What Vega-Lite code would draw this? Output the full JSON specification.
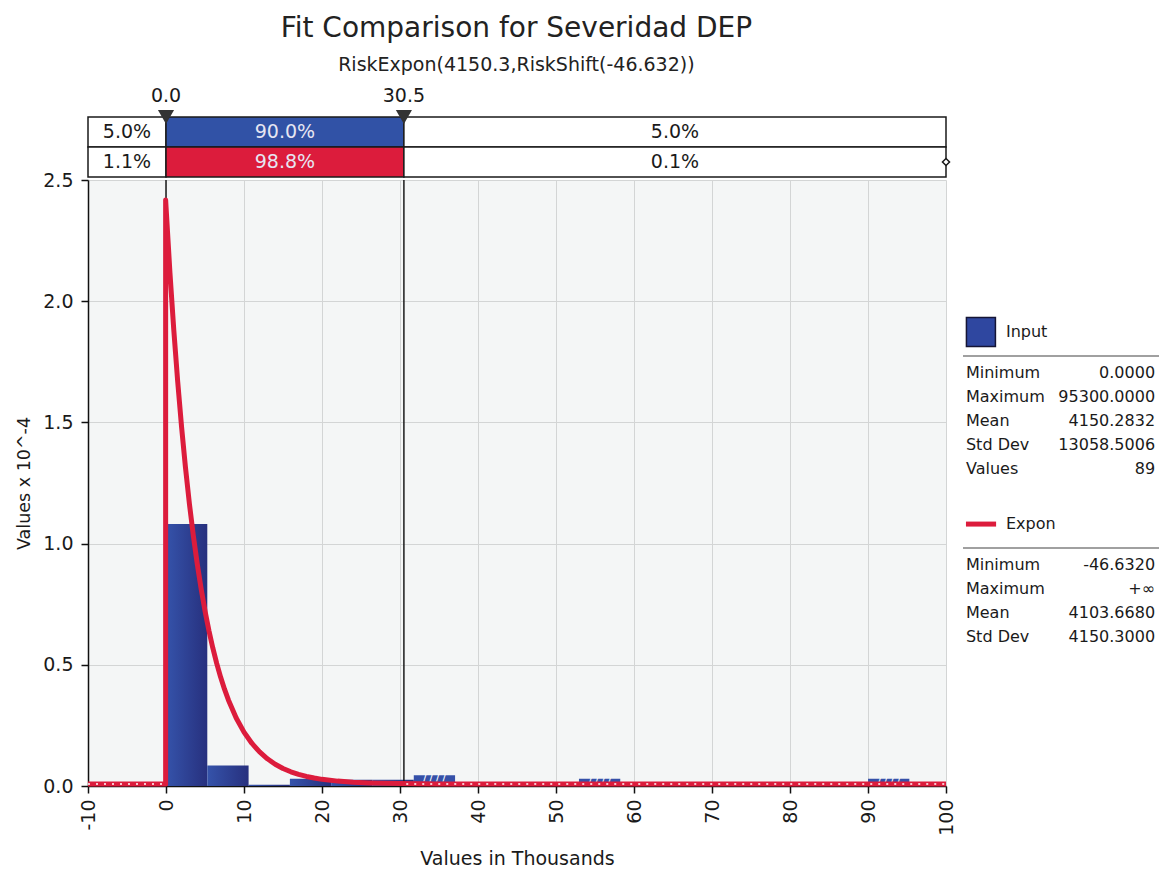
{
  "$schema": "https://vega.github.io/schema/vega-lite/v6.json",
  "padding": {"left": 15, "top": 15, "right": 0, "bottom": 0},
  "title": {
    "text": "Fit Comparison for Severidad DEP",
    "subtitle": "RiskExpon(4150.3,RiskShift(-46.632))",
    "fontSize": 28,
    "fontWeight": "normal",
    "color": "#222222",
    "subtitleFontSize": 19,
    "subtitleColor": "#222222",
    "subtitlePadding": 13,
    "anchor": "middle",
    "dx": -72,
    "offset": 12
  },
  "datasets": {
    "bins": [
      {"lo": 0.0, "hi": 5.294, "h": 1.081, "zone": "inside"},
      {"lo": 5.294, "hi": 10.589, "h": 0.085, "zone": "inside"},
      {"lo": 10.589, "hi": 15.883, "h": 0.005, "zone": "inside"},
      {"lo": 15.883, "hi": 21.178, "h": 0.030, "zone": "inside"},
      {"lo": 21.178, "hi": 26.472, "h": 0.026, "zone": "inside"},
      {"lo": 26.472, "hi": 31.767, "h": 0.026, "zone": "inside"},
      {"lo": 31.767, "hi": 37.061, "h": 0.044, "zone": "outside"},
      {"lo": 52.944, "hi": 58.239, "h": 0.030, "zone": "outside"},
      {"lo": 90.006, "hi": 95.300, "h": 0.030, "zone": "outside"}
    ],
    "expon": [
      {"o": 0, "x": -10, "y": 0},
      {"o": 1, "x": -0.0466, "y": 0},
      {"o": 2, "x": -0.0466, "y": 2.4095},
      {"o": 3, "x": 0, "y": 2.3825},
      {"o": 4, "x": 0.5, "y": 2.1121},
      {"o": 5, "x": 1, "y": 1.8724},
      {"o": 6, "x": 1.5, "y": 1.6599},
      {"o": 7, "x": 2, "y": 1.4715},
      {"o": 8, "x": 2.5, "y": 1.3045},
      {"o": 9, "x": 3, "y": 1.1564},
      {"o": 10, "x": 3.5, "y": 1.0252},
      {"o": 11, "x": 4, "y": 0.9088},
      {"o": 12, "x": 4.5, "y": 0.8057},
      {"o": 13, "x": 5, "y": 0.7142},
      {"o": 14, "x": 5.5, "y": 0.6332},
      {"o": 15, "x": 6, "y": 0.5613},
      {"o": 16, "x": 6.5, "y": 0.4976},
      {"o": 17, "x": 7, "y": 0.4411},
      {"o": 18, "x": 7.5, "y": 0.3911},
      {"o": 19, "x": 8, "y": 0.3467},
      {"o": 20, "x": 9, "y": 0.2724},
      {"o": 21, "x": 10, "y": 0.2141},
      {"o": 22, "x": 11, "y": 0.1683},
      {"o": 23, "x": 12, "y": 0.1322},
      {"o": 24, "x": 13, "y": 0.1039},
      {"o": 25, "x": 14, "y": 0.0817},
      {"o": 26, "x": 15, "y": 0.0642},
      {"o": 27, "x": 16, "y": 0.0504},
      {"o": 28, "x": 17, "y": 0.0396},
      {"o": 29, "x": 18, "y": 0.0312},
      {"o": 30, "x": 19, "y": 0.0245},
      {"o": 31, "x": 20, "y": 0.0192},
      {"o": 32, "x": 22, "y": 0.0119},
      {"o": 33, "x": 24, "y": 0.0073},
      {"o": 34, "x": 26, "y": 0.0045},
      {"o": 35, "x": 28, "y": 0.0028},
      {"o": 36, "x": 30, "y": 0.0017},
      {"o": 37, "x": 35, "y": 0.0005},
      {"o": 38, "x": 40, "y": 0.0002},
      {"o": 39, "x": 50, "y": 0.0},
      {"o": 40, "x": 100, "y": 0.0}
    ],
    "tails": [
      {"part": "left", "x": -10, "y": 0},
      {"part": "left", "x": -0.3, "y": 0},
      {"part": "right", "x": 30.8, "y": 0},
      {"part": "right", "x": 100, "y": 0}
    ],
    "marks": [
      {"pos": 0, "label": "0.0"},
      {"pos": 30.5, "label": "30.5"}
    ],
    "segments": [
      {"row": "Input", "seg": "out", "lo": -10, "hi": 0, "pct": "5.0%"},
      {"row": "Input", "seg": "Input", "lo": 0, "hi": 30.5, "pct": "90.0%"},
      {"row": "Input", "seg": "out", "lo": 30.5, "hi": 100, "pct": "5.0%"},
      {"row": "Expon", "seg": "out", "lo": -10, "hi": 0, "pct": "1.1%"},
      {"row": "Expon", "seg": "Expon", "lo": 0, "hi": 30.5, "pct": "98.8%"},
      {"row": "Expon", "seg": "out", "lo": 30.5, "hi": 100, "pct": "0.1%"}
    ],
    "headers": [
      {"name": "Input", "line": 10},
      {"name": "Expon", "line": 18}
    ],
    "stats": [
      {"label": "Minimum", "val": "0.0000", "line": 12},
      {"label": "Maximum", "val": "95300.0000", "line": 13},
      {"label": "Mean", "val": "4150.2832", "line": 14},
      {"label": "Std Dev", "val": "13058.5006", "line": 15},
      {"label": "Values", "val": "89", "line": 16},
      {"label": "Minimum", "val": "-46.6320", "line": 20},
      {"label": "Maximum", "val": "+∞", "line": 21},
      {"label": "Mean", "val": "4103.6680", "line": 22},
      {"label": "Std Dev", "val": "4150.3000", "line": 23}
    ]
  },
  "hconcat": [
    {
      "vconcat": [
        {
          "width": 858,
          "height": 90,
          "layer": [
            {
              "data": {"name": "segments"},
              "mark": {"type": "rect", "stroke": "#1a1a1a", "strokeWidth": 1.5},
              "encoding": {
                "x": {"field": "lo", "type": "quantitative", "scale": {"domain": [-10, 100], "nice": false, "zero": false}, "axis": null},
                "x2": {"field": "hi"},
                "y": {"field": "row", "type": "nominal", "scale": {"domain": ["marker", "Input", "Expon"], "paddingInner": 0, "paddingOuter": 0}, "axis": null},
                "fill": {"field": "seg", "type": "nominal", "scale": {"domain": ["out", "Input", "Expon"], "range": ["#ffffff", "#3152A6", "#DC1C3C"]}, "legend": null}
              }
            },
            {
              "data": {"name": "segments"},
              "transform": [{"calculate": "(datum.lo + datum.hi) / 2", "as": "mid"}],
              "mark": {"type": "text", "fontSize": 19, "baseline": "middle"},
              "encoding": {
                "x": {"field": "mid", "type": "quantitative"},
                "y": {"field": "row", "type": "nominal"},
                "text": {"field": "pct"},
                "color": {"condition": {"test": "datum.seg === 'out'", "value": "#1a1a1a"}, "value": "#E6E6F2"}
              }
            },
            {
              "data": {"name": "marks"},
              "mark": {"type": "point", "shape": "triangle-down", "filled": true, "color": "#333333", "size": 260, "opacity": 1},
              "encoding": {
                "x": {"field": "pos", "type": "quantitative"},
                "y": {"datum": "Input", "type": "nominal", "bandPosition": 0}
              }
            },
            {
              "data": {"name": "marks"},
              "mark": {"type": "text", "fontSize": 19, "baseline": "middle", "dy": -6, "color": "#1a1a1a"},
              "encoding": {
                "x": {"field": "pos", "type": "quantitative"},
                "y": {"datum": "marker", "type": "nominal"},
                "text": {"field": "label"}
              }
            },
            {
              "data": {"values": [{"pos": 100}]},
              "mark": {"type": "point", "shape": "diamond", "filled": true, "fill": "#ffffff", "stroke": "#1a1a1a", "strokeWidth": 1.5, "size": 50, "opacity": 1},
              "encoding": {
                "x": {"field": "pos", "type": "quantitative"},
                "y": {"datum": "Expon", "type": "nominal"}
              }
            }
          ]
        },
        {
          "width": 858,
          "height": 606,
          "view": {"fill": "#F4F6F6", "stroke": null},
          "layer": [
            {
              "data": {"name": "bins"},
              "transform": [{"filter": "datum.zone === 'inside'"}],
              "mark": {
                "type": "rect",
                "color": {"gradient": "linear", "x1": 0, "x2": 1, "y1": 0, "y2": 0,
                  "stops": [{"offset": 0, "color": "#3553AA"}, {"offset": 1, "color": "#27307E"}]}
              },
              "encoding": {
                "x": {"field": "lo", "type": "quantitative", "title": "Values in Thousands",
                  "scale": {"domain": [-10, 100], "nice": false, "zero": false},
                  "axis": {"values": [-10, 0, 10, 20, 30, 40, 50, 60, 70, 80, 90, 100], "labelExpr": "datum.value < 0 ? '-' + abs(datum.value) : '' + datum.value", "labelAngle": -90, "labelFontSize": 19, "titleFontSize": 19, "tickSize": 7, "labelPadding": 6, "titlePadding": 14, "grid": true, "domainWidth": 1.5, "tickWidth": 1.5}},
                "x2": {"field": "hi"},
                "y": {"field": "h", "type": "quantitative", "title": "Values x 10^-4",
                  "scale": {"domain": [0, 2.5], "nice": false},
                  "axis": {"values": [0, 0.5, 1, 1.5, 2, 2.5], "format": ".1f", "labelFontSize": 19, "titleFontSize": 17.5, "tickSize": 7, "labelPadding": 8, "titlePadding": 9, "grid": true, "domainWidth": 1.5, "tickWidth": 1.5}},
                "y2": {"datum": 0}
              }
            },
            {
              "data": {"name": "bins"},
              "transform": [{"filter": "datum.zone === 'outside'"}],
              "mark": {"type": "rect", "color": "#3550A8"},
              "encoding": {
                "x": {"field": "lo", "type": "quantitative", "title": "Values in Thousands"},
                "x2": {"field": "hi"},
                "y": {"field": "h", "type": "quantitative", "title": "Values x 10^-4"},
                "y2": {"datum": 0}
              }
            },
            {
              "data": {"name": "bins"},
              "transform": [
                {"filter": "datum.zone === 'outside'"},
                {"calculate": "(datum.lo + datum.hi) / 2", "as": "mid"}
              ],
              "mark": {"type": "text", "text": "/   /   /   /", "fontSize": 9, "fontWeight": "bold", "color": "#ffffff", "baseline": "top", "dy": -1},
              "encoding": {
                "x": {"field": "mid", "type": "quantitative", "title": "Values in Thousands"},
                "y": {"field": "h", "type": "quantitative", "title": "Values x 10^-4"}
              }
            },
            {
              "data": {"name": "marks"},
              "mark": {"type": "rule", "color": "#1a1a1a", "strokeWidth": 1.5},
              "encoding": {
                "x": {"field": "pos", "type": "quantitative", "title": "Values in Thousands"}
              }
            },
            {
              "data": {"name": "expon"},
              "mark": {"type": "line", "color": "#DC1C3C", "strokeWidth": 5, "yOffset": -2, "strokeJoin": "round"},
              "encoding": {
                "x": {"field": "x", "type": "quantitative", "title": "Values in Thousands"},
                "y": {"field": "y", "type": "quantitative", "title": "Values x 10^-4"},
                "order": {"field": "o"}
              }
            },
            {
              "data": {"name": "tails"},
              "mark": {"type": "line", "color": "#ffffff", "strokeWidth": 1.5, "strokeDash": [2, 6], "yOffset": -2},
              "encoding": {
                "x": {"field": "x", "type": "quantitative", "title": "Values in Thousands"},
                "y": {"field": "y", "type": "quantitative", "title": "Values x 10^-4"},
                "detail": {"field": "part"}
              }
            }
          ]
        }
      ],
      "spacing": 3,
      "bounds": "flush"
    },
    {
      "width": 197,
      "height": 699,
      "layer": [
        {
          "data": {"name": "headers"},
          "mark": {"type": "text", "align": "left", "baseline": "middle", "fontSize": 16, "dy": 7, "color": "#1a1a1a"},
          "encoding": {
            "x": {"datum": 0.218, "type": "quantitative", "scale": {"domain": [0, 1], "nice": false}, "axis": null},
            "y": {"field": "line", "type": "quantitative", "scale": {"domain": [0.08, 29.205], "nice": false, "zero": false, "reverse": true}, "axis": null},
            "text": {"field": "name"}
          }
        },
        {
          "data": {"values": [{"line": 10}]},
          "mark": {"type": "point", "shape": "square", "filled": true, "color": "#2F47A0", "stroke": "#151535", "strokeWidth": 1.5, "size": 840, "yOffset": 7, "opacity": 1},
          "encoding": {
            "x": {"datum": 0.091, "type": "quantitative"},
            "y": {"field": "line", "type": "quantitative"}
          }
        },
        {
          "data": {"values": [{"line": 18}]},
          "mark": {"type": "rule", "color": "#DC1C3C", "strokeWidth": 5, "yOffset": 7},
          "encoding": {
            "x": {"datum": 0.015, "type": "quantitative"},
            "x2": {"datum": 0.168},
            "y": {"field": "line", "type": "quantitative"}
          }
        },
        {
          "data": {"values": [{"line": 11}, {"line": 19}]},
          "mark": {"type": "rule", "color": "#A0A0A0", "strokeWidth": 2, "yOffset": 7},
          "encoding": {
            "x": {"datum": 0, "type": "quantitative"},
            "x2": {"datum": 1},
            "y": {"field": "line", "type": "quantitative"}
          }
        },
        {
          "data": {"name": "stats"},
          "mark": {"type": "text", "align": "left", "baseline": "middle", "fontSize": 16, "color": "#1a1a1a"},
          "encoding": {
            "x": {"datum": 0.015, "type": "quantitative"},
            "y": {"field": "line", "type": "quantitative"},
            "text": {"field": "label"}
          }
        },
        {
          "data": {"name": "stats"},
          "mark": {"type": "text", "align": "right", "baseline": "middle", "fontSize": 16, "color": "#1a1a1a"},
          "encoding": {
            "x": {"datum": 0.975, "type": "quantitative"},
            "y": {"field": "line", "type": "quantitative"},
            "text": {"field": "val"}
          }
        }
      ]
    }
  ],
  "spacing": 6,
  "config": {
    "font": "DejaVu Sans",
    "view": {"stroke": null},
    "axis": {
      "domainColor": "#111111",
      "tickColor": "#111111",
      "gridColor": "#D3D5D5",
      "gridWidth": 1,
      "labelColor": "#1a1a1a",
      "titleColor": "#1a1a1a",
      "titleFontWeight": "normal"
    }
  }
}
